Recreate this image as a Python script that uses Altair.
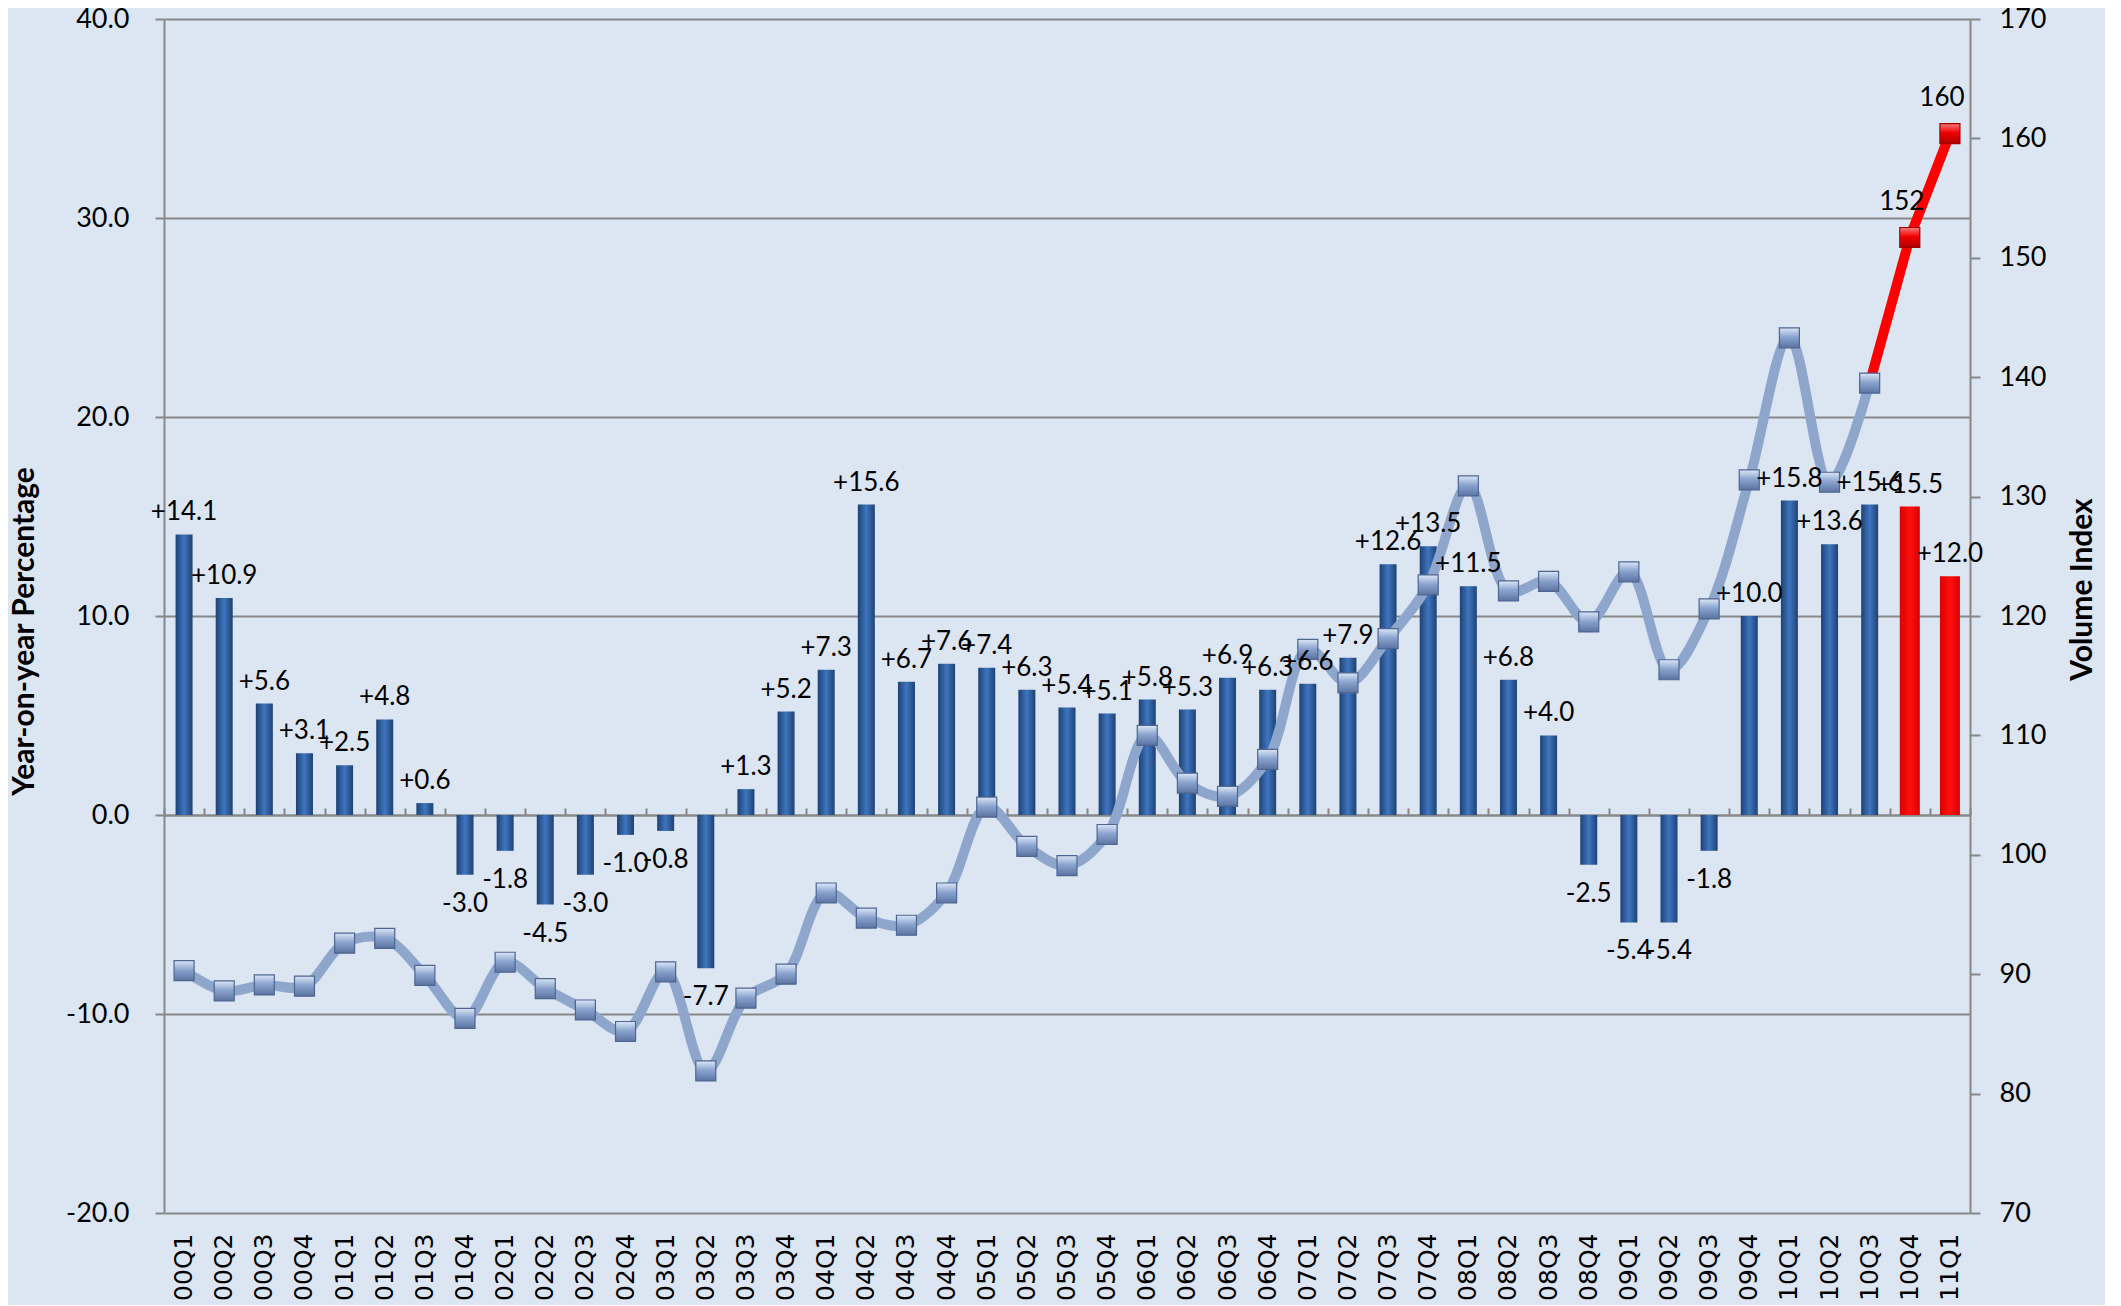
import altair as alt
import pandas as pd

quarters = ["00Q1", "00Q2", "00Q3", "00Q4", "01Q1", "01Q2", "01Q3", "01Q4",
            "02Q1", "02Q2", "02Q3", "02Q4", "03Q1", "03Q2", "03Q3", "03Q4",
            "04Q1", "04Q2", "04Q3", "04Q4", "05Q1", "05Q2", "05Q3", "05Q4",
            "06Q1", "06Q2", "06Q3", "06Q4", "07Q1", "07Q2", "07Q3", "07Q4",
            "08Q1", "08Q2", "08Q3", "08Q4", "09Q1", "09Q2", "09Q3", "09Q4",
            "10Q1", "10Q2", "10Q3", "10Q4", "11Q1"]

yoy_pct = [14.1, 10.9, 5.6, 3.1, 2.5, 4.8, 0.6, -3.0,
           -1.8, -4.5, -3.0, -1.0, -0.8, -7.7, 1.3, 5.2,
           7.3, 15.6, 6.7, 7.6, 7.4, 6.3, 5.4, 5.1,
           5.8, 5.3, 6.9, 6.3, 6.6, 7.9, 12.6, 13.5,
           11.5, 6.8, 4.0, -2.5, -5.4, -5.4, -1.8, 10.0,
           15.8, 13.6, 15.6, 15.5, 12.0]

volume_index = [90.3, 88.6, 89.1, 89.0, 92.6, 93.0, 89.9, 86.3,
                91.0, 88.8, 87.0, 85.2, 90.2, 81.9, 88.0, 90.0,
                96.8, 94.7, 94.1, 96.8, 104.0, 100.7, 99.1, 101.7,
                110.0, 106.0, 104.9, 108.0, 117.2, 114.4, 118.1, 122.6,
                130.9, 122.1, 122.9, 119.5, 123.7, 115.5, 120.6, 131.4,
                143.3, 131.2, 139.5, 151.7, 160.4]

n_forecast = 2  # last quarters drawn in red

df = pd.DataFrame({"q": quarters, "yoy": yoy_pct, "vol": volume_index,
                   "idx": list(range(len(quarters)))})
last_actual = len(quarters) - 1 - n_forecast

W, H = 1806, 1194
GRAY = "#878787"

blue_bar = alt.LinearGradient(gradient="linear", x1=0, x2=1, y1=0, y2=0, stops=[
    alt.GradientStop(color="#1D4275", offset=0),
    alt.GradientStop(color="#3F75BE", offset=0.5),
    alt.GradientStop(color="#1D4275", offset=1)])
red_bar = alt.LinearGradient(gradient="linear", x1=0, x2=1, y1=0, y2=0, stops=[
    alt.GradientStop(color="#D80000", offset=0),
    alt.GradientStop(color="#FF1010", offset=0.5),
    alt.GradientStop(color="#D80000", offset=1)])
blue_marker = alt.LinearGradient(gradient="linear", x1=0, x2=0, y1=0, y2=1, stops=[
    alt.GradientStop(color="#DCE7F7", offset=0),
    alt.GradientStop(color="#8CA5CF", offset=0.45),
    alt.GradientStop(color="#5A73A2", offset=1)])
red_marker = alt.LinearGradient(gradient="linear", x1=0, x2=0, y1=0, y2=1, stops=[
    alt.GradientStop(color="#FF7A7A", offset=0),
    alt.GradientStop(color="#F00000", offset=0.45),
    alt.GradientStop(color="#B00000", offset=1)])

xscale = alt.Scale(paddingInner=0, paddingOuter=0)
yscale_l = alt.Scale(domain=[-20, 40], nice=False)
yscale_r = alt.Scale(domain=[70, 170], nice=False, zero=False)

base = alt.Chart(df)
actual = f"datum.idx <= {last_actual}"
forecast = f"datum.idx > {last_actual}"

x_bottom = alt.X("q:N", sort=quarters, scale=xscale, axis=alt.Axis(
    orient="bottom", title=None, labelAngle=270, labelFont="DejaVu Sans",
    labelFontSize=25, labelColor="black", labelPadding=20, ticks=False,
    domain=False, grid=False))
x_zero = alt.X("q:N", sort=quarters, scale=xscale, axis=alt.Axis(
    orient="top", offset=-(H * 40 / 60), labels=False, ticks=True,
    tickBand="extent", tickSize=7, tickColor=GRAY, tickWidth=2,
    domain=True, domainColor=GRAY, domainWidth=2, grid=False, title=None))
x_none = alt.X("q:N", sort=quarters, scale=xscale, axis=None)

y_left = alt.Y("yoy:Q", scale=yscale_l, axis=alt.Axis(
    orient="left", values=[-20, -10, 0, 10, 20, 30, 40],
    labelExpr="(datum.value < 0 ? '-' : '') + format(abs(datum.value), '.1f')",
    grid=True, gridColor=GRAY, gridWidth=2, domainColor=GRAY, domainWidth=2,
    tickColor=GRAY, tickSize=9, tickWidth=2, labelFont="Lato", labelFontSize=27,
    labelColor="black", labelPadding=26, title="Year-on-year Percentage",
    titleFont="Lato", titleFontSize=30, titleFontWeight="bold",
    titleColor="black", titleAngle=270, titleX=-140, titleY=612,
    titleAlign="center", titleBaseline="middle"))
y_left_none = alt.Y("yoy:Q", scale=yscale_l, axis=None)

y_right = alt.Y("vol:Q", scale=yscale_r, axis=alt.Axis(
    orient="right", values=list(range(70, 171, 10)), format="d", grid=False,
    domainColor=GRAY, domainWidth=2, tickColor=GRAY, tickSize=10, tickWidth=2,
    labelFont="Lato", labelFontSize=27, labelColor="black", labelPadding=19,
    title="Volume Index", titleFont="Lato", titleFontSize=30,
    titleFontWeight="bold", titleColor="black", titleAngle=270, titleX=112,
    titleY=570, titleAlign="center", titleBaseline="middle"))
y_right_none = alt.Y("vol:Q", scale=yscale_r, axis=None)

bars_blue = base.transform_filter(actual).mark_bar(size=17, color=blue_bar).encode(
    x=x_bottom, y=y_left)
line_blue = base.transform_filter(actual).mark_line(
    interpolate="catmull-rom", color="#8EA6CC", strokeWidth=10).encode(
    x=x_zero, y=y_right)
bars_red = base.transform_filter(forecast).mark_bar(size=20, color=red_bar).encode(
    x=x_none, y=y_left_none)
line_red = base.transform_filter(f"datum.idx >= {last_actual}").mark_line(
    color="#FF0000", strokeWidth=10).encode(x=x_none, y=y_right_none)
pts_blue = base.transform_filter(actual).mark_square(
    size=400, fill=blue_marker, stroke="#4E6590", strokeWidth=1.2, opacity=1).encode(
    x=x_none, y=y_right_none)
pts_red = base.transform_filter(forecast).mark_square(
    size=400, fill=red_marker, stroke="#A00000", strokeWidth=1.2, opacity=1).encode(
    x=x_none, y=y_right_none)

lab_expr = "(datum.yoy > 0 ? '+' : '-') + format(abs(datum.yoy), '.1f')"
lab_pos = base.transform_filter("datum.yoy > 0").transform_calculate(
    lab=lab_expr).mark_text(font="Lato", fontSize=26, color="black",
                            baseline="alphabetic", dy=-14).encode(
    x=x_none, y=y_left_none, text="lab:N")
lab_neg = base.transform_filter("datum.yoy <= 0").transform_calculate(
    lab=lab_expr).mark_text(font="Lato", fontSize=26, color="black",
                            baseline="top", dy=16).encode(
    x=x_none, y=y_left_none, text="lab:N")
lab_vol = base.transform_filter(forecast).mark_text(
    font="Lato", fontSize=26, color="black", baseline="alphabetic",
    dy=-28, dx=-8).encode(
    x=x_none, y=y_right_none, text=alt.Text("vol:Q", format=".0f"))

chart = alt.layer(
    bars_blue, line_blue, bars_red, line_red, pts_blue, pts_red,
    lab_pos, lab_neg, lab_vol
).resolve_scale(y="independent").resolve_axis(
    x="independent", y="independent"
).properties(
    width=W, height=H,
    autosize=alt.AutoSizeParams(type="none"),
    padding={"left": 156, "top": 11, "right": 135, "bottom": 92},
).configure(background="#DCE6F2").configure_view(stroke=None)

chart.save("out.html", embed_options={"renderer": "svg", "actions": False})
